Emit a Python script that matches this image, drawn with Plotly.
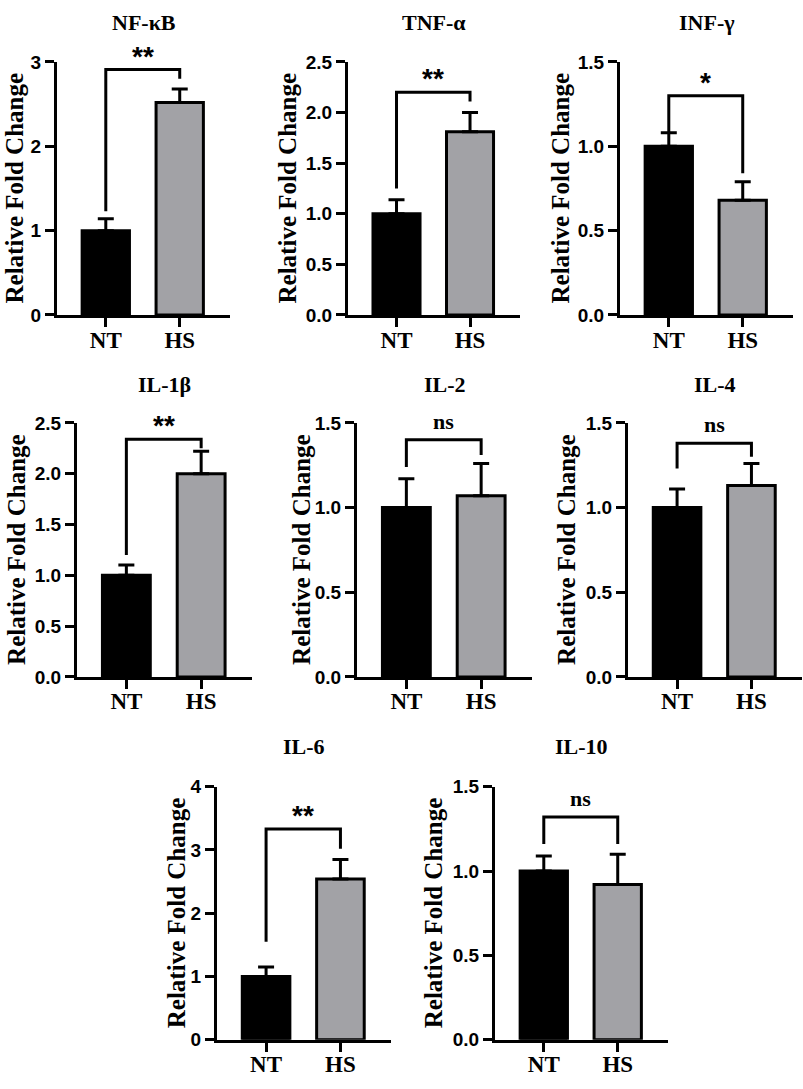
import plotly.graph_objects as go

groups = ['NT', 'HS']
genes = ['NF-κB', 'TNF-α', 'INF-γ', 'IL-1β', 'IL-2', 'IL-4', 'IL-6', 'IL-10']
means_nt = [1.0, 1.0, 1.0, 1.0, 1.0, 1.0, 1.0, 1.0]
means_hs = [2.52, 1.81, 0.68, 2.0, 1.07, 1.13, 2.54, 0.92]
err_nt = [0.14, 0.14, 0.08, 0.10, 0.17, 0.11, 0.15, 0.09]
err_hs = [0.16, 0.19, 0.11, 0.22, 0.19, 0.13, 0.31, 0.18]
signif = ['**', '**', '*', '**', 'ns', 'ns', '**', 'ns']
y_max = [3, 2.5, 1.5, 2.5, 1.5, 1.5, 4, 1.5]
y_step = [1, 0.5, 0.5, 0.5, 0.5, 0.5, 1, 0.5]
# significance brackets: top line, left leg end, right leg end
bracket_y = [2.91, 2.2, 1.30, 2.34, 1.40, 1.38, 3.33, 1.32]
bracket_left = [1.23, 1.25, 1.08, 1.2, 1.24, 1.23, 1.55, 1.16]
bracket_right = [2.8, 2.11, 0.84, 2.25, 1.31, 1.30, 3.02, 1.16]

W, H = 803, 1089
# panel boxes in pixels: left, right, top, bottom, y-title x
boxes = [
    (57, 230, 53, 311, 14),
    (348, 520, 53, 311, 287),
    (620, 793, 53, 311, 560),
    (77, 252, 421, 680, 17),
    (357, 532, 421, 680, 302),
    (628, 802, 421, 680, 567),
    (217, 391, 792, 1050, 176),
    (495, 668, 792, 1050, 433),
]
title_y = [13, 13, 13, 382, 382, 382, 751, 751]

serif = 'Liberation Serif'
sans = 'Liberation Sans'

fig = go.Figure()
annotations = []
shapes = []

for i, g in enumerate(genes):
    n = '' if i == 0 else str(i + 1)
    xa, ya = 'x' + n, 'y' + n
    l, r, t, b, tx = boxes[i]

    fig.add_trace(go.Bar(
        x=groups, y=[means_nt[i], means_hs[i]],
        xaxis=xa, yaxis=ya, width=0.64,
        marker=dict(color=['#000000', '#a2a2a6'], line=dict(color='black', width=3)),
        error_y=dict(type='data', symmetric=False, array=[err_nt[i], err_hs[i]],
                     arrayminus=[0, 0], color='black', thickness=3, width=8),
        showlegend=False,
    ))

    fig.layout['xaxis' + n] = dict(
        domain=[l / W, r / W], anchor=ya, range=[-0.66, 1.68],
        showline=True, linecolor='black', linewidth=3,
        ticks='outside', ticklen=9, tickwidth=3, tickcolor='black',
        ticklabelstandoff=-7,
        tickfont=dict(family=serif, size=23, color='black', weight='bold'),
        showgrid=False, zeroline=False, fixedrange=True,
    )
    fig.layout['yaxis' + n] = dict(
        domain=[1 - b / H, 1 - t / H], anchor=xa, range=[0, y_max[i]],
        dtick=y_step[i], tickformat='.1f' if y_step[i] < 1 else 'd',
        showline=True, linecolor='black', linewidth=3,
        ticks='outside', ticklen=9, tickwidth=3, tickcolor='black',
        tickfont=dict(family=sans, size=19, color='black', weight='bold'),
        showgrid=False, zeroline=False, fixedrange=True,
    )

    # panel title
    annotations.append(dict(
        text='<b>' + g + '</b>', xref='paper', yref='paper',
        x=(l + r) / 2 / W, y=1 - title_y[i] / H, showarrow=False,
        xanchor='center', yanchor='middle',
        font=dict(family=serif, size=22, color='black'),
    ))
    # y-axis title
    annotations.append(dict(
        text='<b>Relative Fold Change</b>', xref='paper', yref='paper',
        x=tx / W, y=1 - (t + b) / 2 / H, showarrow=False, textangle=-90,
        xanchor='center', yanchor='middle',
        font=dict(family=serif, size=25, color='black'),
    ))
    # bracket
    shapes.append(dict(
        type='path', xref=xa, yref=ya,
        path='M 0,%s L 0,%s L 1,%s L 1,%s' % (bracket_left[i], bracket_y[i],
                                             bracket_y[i], bracket_right[i]),
        line=dict(color='black', width=3),
    ))
    star = signif[i] != 'ns'
    annotations.append(dict(
        text='<b>' + signif[i] + '</b>', xref=xa, yref=ya, x=0.5, y=bracket_y[i],
        showarrow=False, xanchor='center', yanchor='bottom',
        yshift=-4 if star else 4,
        font=dict(family=sans if star else serif, size=28 if star else 22, color='black'),
    ))

fig.update_layout(
    width=W, height=H, margin=dict(l=0, r=0, t=0, b=0),
    paper_bgcolor='white', plot_bgcolor='white',
    annotations=annotations, shapes=shapes,
)

fig.write_html("out.html", config={'displayModeBar': False},
               post_script="document.body.style.margin='0';document.body.style.overflow='hidden';")
